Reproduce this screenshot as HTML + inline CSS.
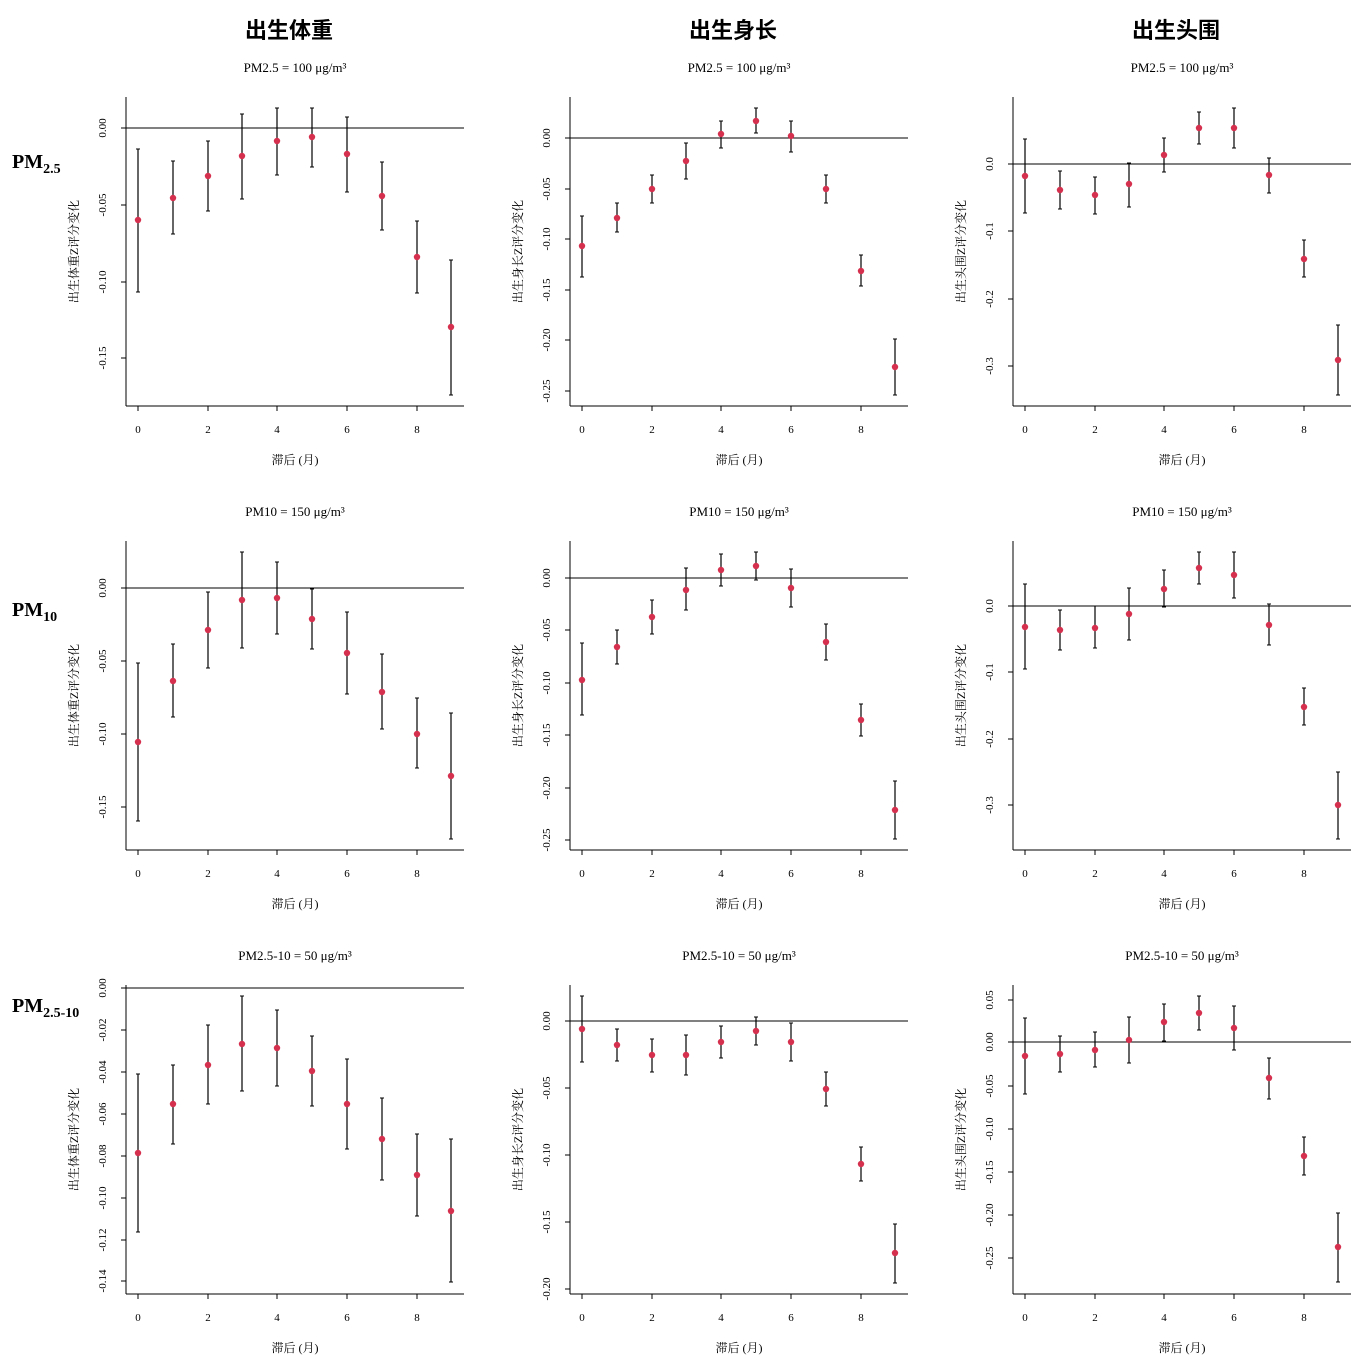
<!DOCTYPE html>
<html><head><meta charset="utf-8"><style>
html,body{margin:0;padding:0;background:#fff;}
svg text{font-family:"Liberation Serif","Noto Serif CJK SC",serif;fill:#000;}
</style></head><body>
<svg id="s" width="1361" height="1361" xmlns="http://www.w3.org/2000/svg"></svg>
<script>
const S=document.getElementById('s');let h='';
const colOff=[0,444,887], rowOff=[0,444,888];
const titles=['出生体重','出生身长','出生头围'];
const ylabs=['出生体重Z评分变化','出生身长Z评分变化','出生头围Z评分变化'];
const subs=['PM2.5 = 100 μg/m³','PM10 = 150 μg/m³','PM2.5-10 = 50 μg/m³'];
const xs=[138,173,208,242,277,312,347,382,417,451];
// panels: [zeroY, ticks[[y,label]], points [[y,lo,hi]]] in absolute y
const P=[
[[128,[[128,'0.00'],[205,'-0.05'],[282,'-0.10'],[358,'-0.15']],[[220,149,292],[198,161,234],[176,141,211],[156,114,199],[141,108,175],[137,108,167],[154,117,192],[196,162,230],[257,221,293],[327,260,395]]],
 [138,[[138,'0.00'],[189,'-0.05'],[239,'-0.10'],[290,'-0.15'],[340,'-0.20'],[391,'-0.25']],[[246,216,277],[218,203,232],[189,175,203],[161,143,179],[134,121,148],[121,108,133],[136,121,152],[189,175,203],[271,255,286],[367,339,395]]],
 [164,[[164,'0.0'],[231,'-0.1'],[299,'-0.2'],[366,'-0.3']],[[176,139,213],[190,171,209],[195,177,214],[184,163,207],[155,138,172],[128,112,144],[128,108,148],[175,158,193],[259,240,277],[360,325,395]]]],
[[588,[[588,'0.00'],[661,'-0.05'],[734,'-0.10'],[807,'-0.15']],[[742,663,821],[681,644,717],[630,592,668],[600,552,648],[598,562,634],[619,589,649],[653,612,694],[692,654,729],[734,698,768],[776,713,839]]],
 [578,[[578,'0.00'],[630,'-0.05'],[683,'-0.10'],[735,'-0.15'],[788,'-0.20'],[840,'-0.25']],[[680,643,715],[647,630,664],[617,600,634],[590,568,610],[570,554,586],[566,552,580],[588,569,607],[642,624,660],[720,704,736],[810,781,839]]],
 [606,[[606,'0.0'],[672,'-0.1'],[739,'-0.2'],[805,'-0.3']],[[627,584,669],[630,610,650],[628,606,648],[614,588,640],[589,570,607],[568,552,584],[575,552,598],[625,604,645],[707,688,725],[805,772,839]]]],
[[988,[[988,'0.00'],[1030,'-0.02'],[1072,'-0.04'],[1114,'-0.06'],[1156,'-0.08'],[1198,'-0.10'],[1240,'-0.12'],[1281,'-0.14']],[[1153,1074,1232],[1104,1065,1144],[1065,1025,1104],[1044,996,1091],[1048,1010,1086],[1071,1036,1106],[1104,1059,1149],[1139,1098,1180],[1175,1134,1216],[1211,1139,1282]]],
 [1021,[[1021,'0.00'],[1088,'-0.05'],[1155,'-0.10'],[1222,'-0.15'],[1289,'-0.20']],[[1029,996,1062],[1045,1029,1061],[1055,1039,1072],[1055,1035,1075],[1042,1026,1058],[1031,1017,1045],[1042,1023,1061],[1089,1072,1106],[1164,1147,1181],[1253,1224,1283]]],
 [1042,[[1000,'0.05'],[1042,'0.00'],[1086,'-0.05'],[1129,'-0.10'],[1172,'-0.15'],[1215,'-0.20'],[1258,'-0.25']],[[1056,1018,1094],[1054,1036,1072],[1050,1032,1067],[1040,1017,1063],[1022,1004,1041],[1013,996,1030],[1028,1006,1050],[1078,1058,1099],[1156,1137,1175],[1247,1213,1282]]]]
];
for(let c=0;c<3;c++){
  const cx=colOff[c];
  h+=`<text x="${289+cx}" y="38" text-anchor="middle" font-size="22" font-weight="bold" style="font-family:'Noto Sans CJK SC',sans-serif">${titles[c]}</text>`;
}
const rl=[['PM','2.5',162],['PM','10',610],['PM','2.5-10',1006]];
for(let r=0;r<3;r++){
  h+=`<text x="12" y="${rl[r][2]+6}" font-size="20" font-weight="bold">${rl[r][0]}<tspan font-size="14" dy="5">${rl[r][1]}</tspan></text>`;
  for(let c=0;c<3;c++){
    const cx=colOff[c], ry=rowOff[r];const [z,ticks,pts]=P[r][c];
    const top=97+ry,bot=406+ry,L=126+cx,R=464+cx;
    h+=`<text x="${295+cx}" y="${72+ry}" text-anchor="middle" font-size="13">${subs[r]}</text>`;
    h+=`<line x1="${L}" y1="${top}" x2="${L}" y2="${bot}" stroke="#000"/>`;
    h+=`<line x1="${L}" y1="${bot}" x2="${R}" y2="${bot}" stroke="#000"/>`;
    h+=`<line x1="${L}" y1="${z}" x2="${R}" y2="${z}" stroke="#000"/>`;
    for(const [y,l] of ticks){h+=`<line x1="${L-5}" y1="${y}" x2="${L}" y2="${y}" stroke="#000"/>`;
      h+=`<text transform="translate(${106+cx},${y}) rotate(-90)" text-anchor="middle" font-size="11">${l}</text>`;}
    for(let i=0;i<10;i+=2){const x=xs[i]+cx;h+=`<line x1="${x}" y1="${bot}" x2="${x}" y2="${bot+5}" stroke="#000"/><text x="${x}" y="${bot+27}" text-anchor="middle" font-size="11">${i}</text>`;}
    h+=`<text x="${295+cx}" y="${bot+58}" text-anchor="middle" font-size="12">滞后 (月)</text>`;
    h+=`<text transform="translate(${78+cx},${(top+bot)/2}) rotate(-90)" text-anchor="middle" font-size="12">${ylabs[c]}</text>`;
    pts.forEach((p,i)=>{const x=xs[i]+cx;
      h+=`<line x1="${x}" y1="${p[1]}" x2="${x}" y2="${p[2]}" stroke="#000" stroke-width="1.2"/>`;
      h+=`<line x1="${x-2}" y1="${p[1]}" x2="${x+2}" y2="${p[1]}" stroke="#000"/><line x1="${x-2}" y1="${p[2]}" x2="${x+2}" y2="${p[2]}" stroke="#000"/>`;
      h+=`<circle cx="${x}" cy="${p[0]}" r="3.2" fill="#d6304f"/>`;});
  }
}
S.innerHTML=h;
</script>
</body></html>
